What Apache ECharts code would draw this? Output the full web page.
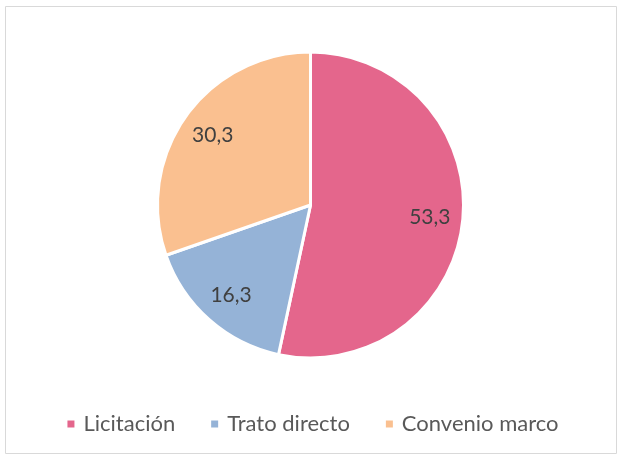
<!DOCTYPE html>
<html><head><meta charset="utf-8">
<script src="https://cdn.jsdelivr.net/npm/echarts@6/dist/echarts.min.js"></script>
<style>html,body{margin:0;padding:0;background:#fff}#c{width:624px;height:462px}</style>
</head><body><div id="c"></div>
<script>
const categories = ['Licitación', 'Trato directo', 'Convenio marco'];
const values = [53.3, 16.3, 30.3];
const colors = ['#E4668C', '#95B3D7', '#FAC090'];

const chart = echarts.init(document.getElementById('c'), null, {renderer: 'canvas'});
const data = categories.map((n, i) => ({name: n, value: values[i], itemStyle: {color: colors[i]}}));
const fmt = p => String(p.value).replace('.', ',');
chart.setOption({
  animation: false,
  graphic: [{type: 'rect', shape: {x: 5.5, y: 6.5, width: 611, height: 447}, style: {fill: 'none', stroke: '#D9D9D9', lineWidth: 1}, silent: true}],
  legend: {
    data: categories, bottom: 22, left: 'center', icon: 'rect', itemWidth: 9, itemHeight: 9, itemGap: 34,
    textStyle: {fontFamily: 'Lato', fontSize: 22, color: '#595959', padding: [0, 0, 0, 3]}
  },
  series: [
    {type: 'pie', center: [310.5, 205], radius: [0, 153], startAngle: 90, clockwise: true,
     itemStyle: {borderColor: '#fff', borderWidth: 3}, label: {show: false}, labelLine: {show: false},
     emphasis: {disabled: true}, data: data},
    {type: 'pie', center: [310.5, 205], radius: [0, 234], startAngle: 90, clockwise: true, silent: true,
     itemStyle: {color: 'rgba(0,0,0,0)', borderWidth: 0},
     label: {show: true, position: 'inside', formatter: fmt, fontFamily: 'Lato', fontSize: 21, color: '#404040'},
     labelLine: {show: false}, emphasis: {disabled: true},
     data: categories.map((n, i) => ({name: n, value: values[i], itemStyle: {color: 'rgba(0,0,0,0)'}}))}
  ]
});
</script></body></html>
